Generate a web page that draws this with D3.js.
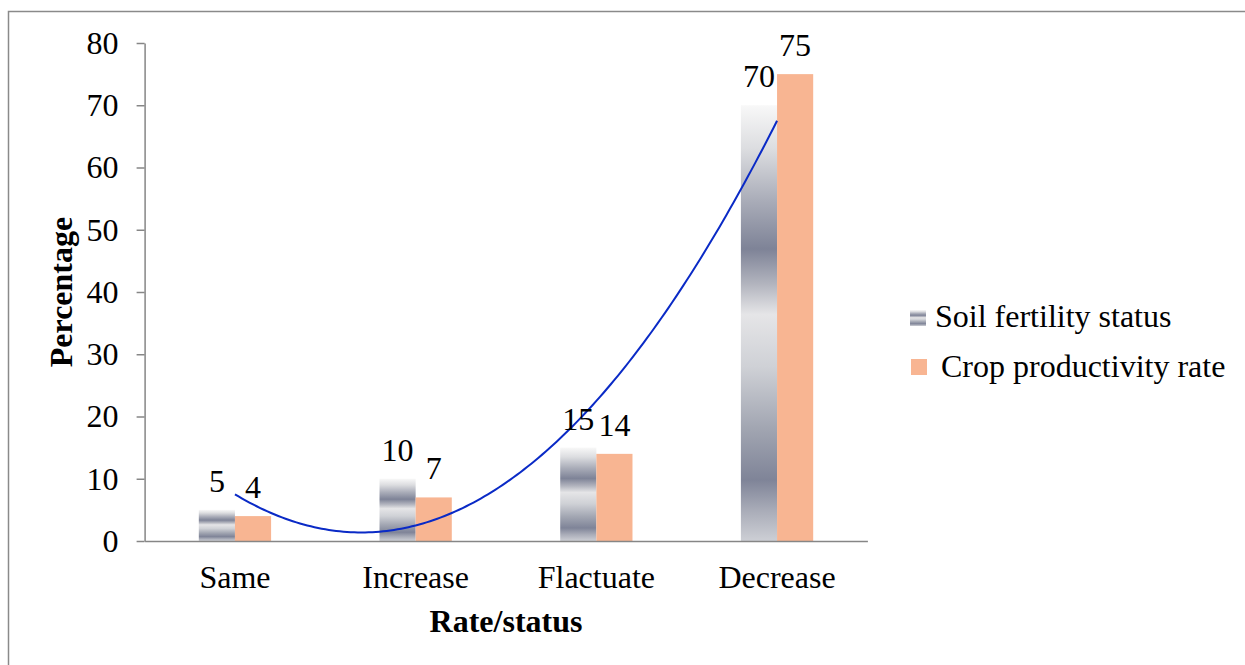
<!DOCTYPE html>
<html>
<head>
<meta charset="utf-8">
<script src="https://cdn.jsdelivr.net/npm/d3@7/dist/d3.min.js"></script>
<style>
  html, body { margin: 0; padding: 0; background: #ffffff; }
  svg { display: block; }
  text { font-family: "Liberation Serif", "Times New Roman", serif; fill: #000; }
</style>
</head>
<body>
<svg id="chart" width="1245" height="665"></svg>
<script>
// Survey responses: how soil fertility and crop productivity have changed
const categories = ["Same", "Increase", "Flactuate", "Decrease"];
const seriesNames = ["Soil fertility status", "Crop productivity rate"];
const soilFertility = [5, 10, 15, 70];
const cropProductivity = [4, 7, 14, 75];
const yTicks = [0, 10, 20, 30, 40, 50, 60, 70, 80];

const svg = d3.select("#chart");
const W = 1245, H = 665;
const plot = { left: 144.6, right: 867.4, top: 43, bottom: 541 };
const FS = 32;

// Frame around the chart area
svg.append("rect")
  .attr("x", 8.5).attr("y", 11.5)
  .attr("width", W + 10).attr("height", H + 10)
  .attr("fill", "none").attr("stroke", "#8a8a8a").attr("stroke-width", 1.5);

// Banded silver fill for the soil fertility series
const defs = svg.append("defs");
const grad = defs.append("linearGradient")
  .attr("id", "silver").attr("x1", 0).attr("y1", 0).attr("x2", 0).attr("y2", 1);
[
  [0.00, "#f8f8f8"],
  [0.10, "#dcdde0"],
  [0.22, "#a9acb8"],
  [0.33, "#7e8397"],
  [0.41, "#b2b4be"],
  [0.48, "#e5e5e7"],
  [0.60, "#cfd1d6"],
  [0.74, "#a2a6b2"],
  [0.86, "#7f8498"],
  [0.93, "#a9acb8"],
  [1.00, "#cdcfd5"]
].forEach(([o, c]) => grad.append("stop").attr("offset", o).attr("stop-color", c));

const colors = ["url(#silver)", "#f8b592"];
const seriesValues = [soilFertility, cropProductivity];

const x0 = d3.scaleBand().domain(categories).range([plot.left, plot.right]).padding(0);
const groupW = x0.bandwidth() * 0.4;
const x1 = d3.scaleBand().domain(d3.range(seriesNames.length)).range([-groupW / 2, groupW / 2]).padding(0);
const y = d3.scaleLinear().domain([0, 80]).range([plot.bottom, plot.top]);

// Y axis
const yAxis = svg.append("g")
  .attr("transform", `translate(${plot.left},0)`)
  .call(d3.axisLeft(y).tickValues(yTicks).tickSize(8).tickPadding(18).tickSizeOuter(0));
yAxis.selectAll("path, line").attr("stroke", "#868686").attr("stroke-width", 1.5);
yAxis.selectAll("text").style("font-size", FS + "px").style("font-family", "Liberation Serif, serif").attr("fill", "#000");

// Bars
categories.forEach((cat, ci) => {
  const cx = x0(cat) + x0.bandwidth() / 2;
  seriesValues.forEach((vals, si) => {
    svg.append("rect")
      .attr("x", cx + x1(si))
      .attr("y", y(vals[ci]))
      .attr("width", x1.bandwidth())
      .attr("height", y(0) - y(vals[ci]))
      .attr("fill", colors[si]);
  });
});

// X axis
const xAxis = svg.append("g")
  .attr("transform", `translate(0,${plot.bottom})`)
  .call(d3.axisBottom(x0).tickSize(0).tickSizeOuter(0));
xAxis.selectAll("path").attr("stroke", "#868686").attr("stroke-width", 1.5);
xAxis.selectAll("text")
  .attr("dy", null).attr("y", 47)
  .style("font-size", FS + "px").style("font-family", "Liberation Serif, serif").attr("fill", "#000");

// Second-order polynomial trendline fitted to the soil fertility series
const xs = soilFertility.map((_, i) => i + 1);
const n = xs.length;
const sum = f => d3.sum(xs.map((xv, i) => f(xv, soilFertility[i])));
const S0 = n, S1 = sum(a => a), S2 = sum(a => a * a), S3 = sum(a => a ** 3), S4 = sum(a => a ** 4);
const T0 = sum((a, b) => b), T1 = sum((a, b) => a * b), T2 = sum((a, b) => a * a * b);
function solve3(M, v) {
  const A = M.map((r, i) => [...r, v[i]]);
  for (let i = 0; i < 3; i++) {
    let p = i;
    for (let k = i + 1; k < 3; k++) if (Math.abs(A[k][i]) > Math.abs(A[p][i])) p = k;
    [A[i], A[p]] = [A[p], A[i]];
    for (let k = i + 1; k < 3; k++) {
      const f = A[k][i] / A[i][i];
      for (let j = i; j < 4; j++) A[k][j] -= f * A[i][j];
    }
  }
  const r = [0, 0, 0];
  for (let i = 2; i >= 0; i--) {
    let s = A[i][3];
    for (let j = i + 1; j < 3; j++) s -= A[i][j] * r[j];
    r[i] = s / A[i][i];
  }
  return r;
}
const [c0, c1, c2] = solve3([[S0, S1, S2], [S1, S2, S3], [S2, S3, S4]], [T0, T1, T2]);
const xPos = d3.scaleLinear().domain([1, n])
  .range([x0(categories[0]) + x0.bandwidth() / 2, x0(categories[n - 1]) + x0.bandwidth() / 2]);
const trendPts = d3.range(1, n + 0.001, 0.02).map(t => [t, c0 + c1 * t + c2 * t * t]);
svg.append("path")
  .datum(trendPts)
  .attr("d", d3.line().x(d => xPos(d[0])).y(d => y(d[1])))
  .attr("fill", "none").attr("stroke", "#0a2ac6").attr("stroke-width", 2);

// Value labels above each bar
categories.forEach((cat, ci) => {
  const cx = x0(cat) + x0.bandwidth() / 2;
  seriesValues.forEach((vals, si) => {
    svg.append("text")
      .attr("x", cx + x1(si) + x1.bandwidth() / 2)
      .attr("y", y(vals[ci]) - 18)
      .attr("text-anchor", "middle")
      .style("font-size", FS + "px")
      .text(vals[ci]);
  });
});

// Axis titles
svg.append("text")
  .attr("transform", `translate(72,${(plot.top + plot.bottom) / 2}) rotate(-90)`)
  .attr("text-anchor", "middle")
  .style("font-size", FS + "px").style("font-weight", "bold")
  .text("Percentage");
svg.append("text")
  .attr("x", (plot.left + plot.right) / 2).attr("y", 632)
  .attr("text-anchor", "middle")
  .style("font-size", FS + "px").style("font-weight", "bold")
  .text("Rate/status");

// Legend
const legend = [
  { name: seriesNames[0], fill: colors[0], sx: 910, sy: 310, tx: 935, ty: 327 },
  { name: " " + seriesNames[1], fill: colors[1], sx: 911, sy: 359, tx: 933, ty: 377 }
];
legend.forEach(l => {
  svg.append("rect").attr("x", l.sx).attr("y", l.sy).attr("width", 16).attr("height", 16).attr("fill", l.fill);
  svg.append("text").attr("x", l.tx).attr("y", l.ty)
    .attr("xml:space", "preserve").style("white-space", "pre")
    .style("font-size", FS + "px").text(l.name);
});
</script>
</body>
</html>
